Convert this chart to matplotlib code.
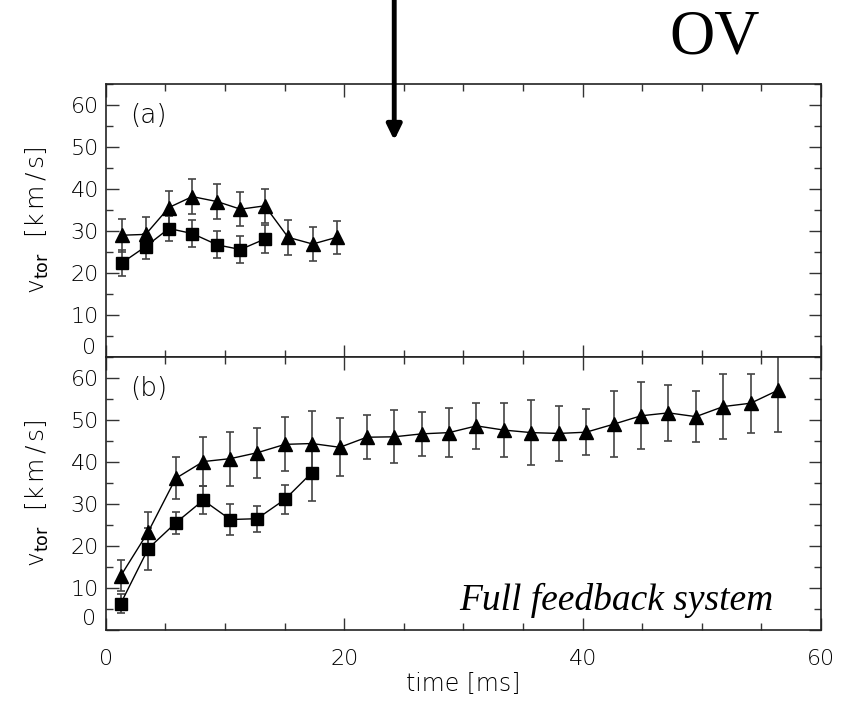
import numpy as np
import matplotlib
matplotlib.use('Agg')
import matplotlib.pyplot as plt
from matplotlib.ticker import MultipleLocator, FuncFormatter
from matplotlib.transforms import ScaledTranslation

# panel (a)
ta_tri = [1.4, 3.35, 5.3, 7.26, 9.36, 11.3, 13.35, 15.3, 17.36, 19.37]
va_tri = [29.0, 29.2, 35.6, 38.2, 37.0, 35.2, 36.0, 28.5, 26.9, 28.5]
ea_tri = [3.9, 4.2, 4.0, 4.1, 4.1, 4.1, 4.1, 4.1, 4.0, 4.0]
ta_sq = [1.4, 3.35, 5.3, 7.26, 9.36, 11.3, 13.35]
va_sq = [22.5, 26.3, 30.6, 29.4, 26.7, 25.6, 28.1]
ea_sq = [3.1, 3.0, 3.0, 3.2, 3.2, 3.2, 3.4]

# panel (b)
tb_tri = [1.26, 3.57, 5.87, 8.18, 10.45, 12.7, 15.03, 17.3, 19.64, 21.9, 24.2, 26.5, 28.8,
          31.1, 33.4, 35.7, 38.0, 40.3, 42.6, 44.9, 47.2, 49.5, 51.8, 54.1, 56.4]
vb_tri = [12.9, 23.4, 36.1, 40.1, 40.8, 42.2, 44.2, 44.4, 43.5, 45.9, 46.0, 46.7, 47.0,
          48.6, 47.6, 47.0, 46.8, 47.1, 49.0, 51.0, 51.7, 50.8, 53.2, 54.0, 57.1]
eb_tri = [3.7, 4.6, 5.0, 5.9, 6.4, 5.9, 6.4, 7.7, 6.9, 5.3, 6.3, 5.2, 5.8,
          5.4, 6.5, 7.7, 6.6, 5.5, 7.8, 8.0, 6.7, 6.0, 7.8, 7.0, 10.0]
tb_sq = [1.26, 3.57, 5.87, 8.18, 10.45, 12.7, 15.03, 17.3]
vb_sq = [6.3, 19.4, 25.5, 30.9, 26.3, 26.5, 31.1, 37.5]
eb_sq = [2.3, 5.0, 2.7, 3.3, 3.6, 3.1, 3.4, 6.8]

fig = plt.figure(figsize=(8.5, 7.05), dpi=100)
ax_a = fig.add_axes([0.1244, 0.4936, 0.8415, 0.3872])
ax_b = fig.add_axes([0.1244, 0.1064, 0.8415, 0.3872])


def draw(ax, t1, v1, e1, t2, v2, e2, zero_lift):
    ax.errorbar(t1, v1, yerr=e1, fmt='^-', color='black', ms=10, lw=1,
                ecolor='#444444', elinewidth=1.2, capsize=3, capthick=1.2)
    ax.errorbar(t2, v2, yerr=e2, fmt='s-', color='black', ms=8, lw=1,
                ecolor='#444444', elinewidth=1.2, capsize=3, capthick=1.2)
    ax.set_xlim(0, 60)
    ax.set_ylim(0, 65)
    ax.xaxis.set_major_locator(MultipleLocator(20))
    ax.xaxis.set_minor_locator(MultipleLocator(5))
    ax.yaxis.set_major_locator(MultipleLocator(10))
    ax.yaxis.set_minor_locator(MultipleLocator(5))
    # the zero label is put in by hand, a bit raised
    ax.yaxis.set_major_formatter(FuncFormatter(lambda v, p: '' if v == 0 else '%d' % v))
    ax.tick_params(which='both', direction='in', top=True, right=True, width=1, color='#333333')
    ax.tick_params(which='major', length=9)
    ax.tick_params(which='minor', length=5)
    ax.tick_params(axis='y', labelsize=16, pad=5)
    ax.tick_params(axis='x', labelsize=16, pad=14)
    for s in ax.spines.values():
        s.set_linewidth(1.2)
        s.set_color('#222222')
    for lab in ax.get_xticklabels() + ax.get_yticklabels():
        lab.set_fontweight('light')
    ax.text(0, 0, '0', fontsize=16, fontweight='light', ha='right', va='center',
            transform=ax.transAxes + ScaledTranslation(-7 / 72, zero_lift / 72, fig.dpi_scale_trans))
    ax.set_ylabel(r'v$_{\rm tor}$  [k$\,$m$\,$/$\,$s]', fontsize=18, fontweight='light', labelpad=14)


draw(ax_a, ta_tri, va_tri, ea_tri, ta_sq, va_sq, ea_sq, 6.5)
draw(ax_b, tb_tri, vb_tri, eb_tri, tb_sq, vb_sq, eb_sq, 8)
ax_a.tick_params(axis='x', labelbottom=False)
ax_b.set_xlabel('time [ms]', fontsize=17, fontweight='light', labelpad=2)

ax_a.text(0.034, 0.883, '(a)', transform=ax_a.transAxes, fontsize=19, fontweight='light', va='center')
ax_b.text(0.034, 0.883, '(b)', transform=ax_b.transAxes, fontsize=19, fontweight='light', va='center')

ax_b.text(0.933, 0.073, 'Full feedback system', transform=ax_b.transAxes, ha='right', va='baseline',
          fontsize=27, family='Liberation Serif', style='italic')

fig.text(0.841, 0.945, 'OV', ha='center', va='center', fontsize=45, family='Liberation Serif')

ax_a.annotate('', xy=(24.2, 51.6), xycoords='data', xytext=(24.2, 1.0),
              textcoords=('data', 'figure fraction'), annotation_clip=False,
              arrowprops=dict(arrowstyle='-|>,head_length=0.45,head_width=0.22', lw=3.5,
                              color='black', mutation_scale=20, shrinkA=0, shrinkB=0))

fig.savefig('out.png', dpi=100)
